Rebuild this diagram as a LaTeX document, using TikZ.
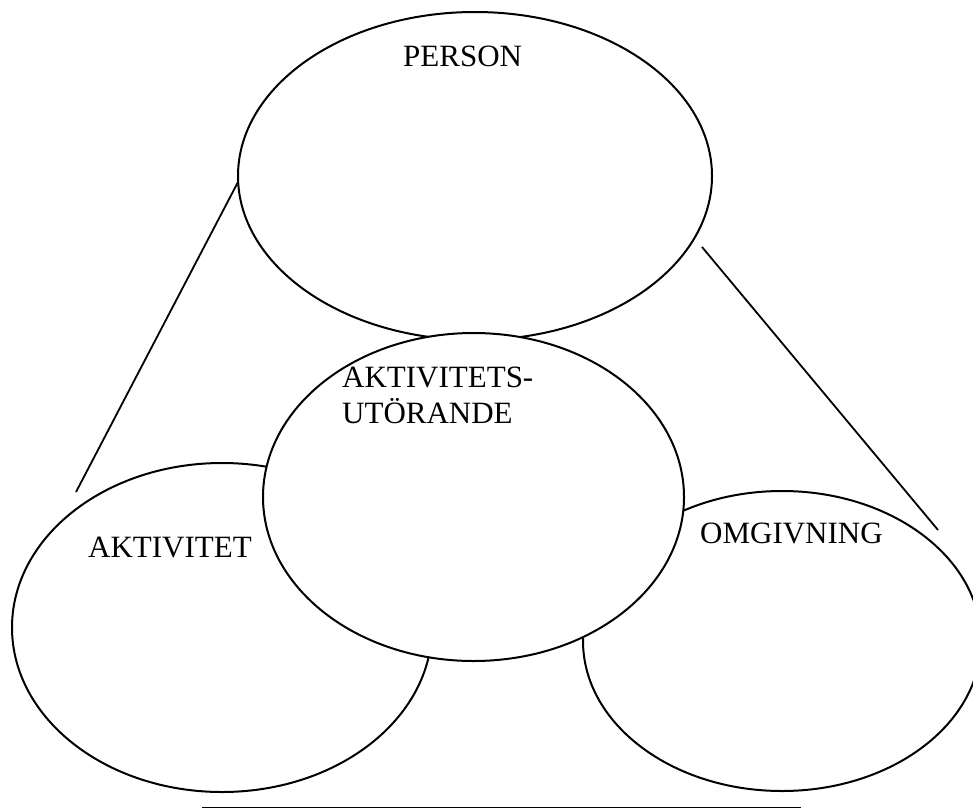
\documentclass[tikz,border=0pt]{standalone}
\usepackage{fontspec}
\setmainfont{Liberation Serif}
\usetikzlibrary{shapes.geometric}
\begin{document}
\begin{tikzpicture}[x=1pt,y=-1pt,
  oval/.style={ellipse, draw, line width=2pt, inner sep=0pt, outer sep=0pt},
  lbl/.style={anchor=base west, inner sep=0pt, font=\fontsize{31}{36}\selectfont},
  conn/.style={line width=1.8pt}]
\useasboundingbox (0,0) rectangle (973,809);
\node[oval, minimum width=420pt, minimum height=329pt] (aktivitet) at (222,627.5) {};
\node[oval, minimum width=398pt, minimum height=300pt] (omgivning) at (782,641) {};
\node[oval, minimum width=474pt, minimum height=328pt] (person) at (475,176) {};
\node[oval, fill=white, minimum width=421pt, minimum height=328pt] (utforande) at (473.5,497) {};
\node[lbl] (tperson) at (403,66) {PERSON};
\node[lbl] (tutf1) at (342,387) {AKTIVITETS-};
\node[lbl] (tutf2) at (342,423) {UTÖRANDE};
\node[lbl] (takt) at (88,557) {AKTIVITET};
\node[lbl] (tomg) at (700,543) {OMGIVNING};
\coordinate (l1) at (238,182);
\coordinate (l2) at (76,492);
\coordinate (r1) at (702,247);
\coordinate (r2) at (938,530);
\coordinate (b1) at (202,807.5);
\coordinate (b2) at (801,807.5);
\draw[conn] (l1) -- (l2);
\draw[conn] (r1) -- (r2);
\draw[conn] (b1) -- (b2);
\end{tikzpicture}
\end{document}
